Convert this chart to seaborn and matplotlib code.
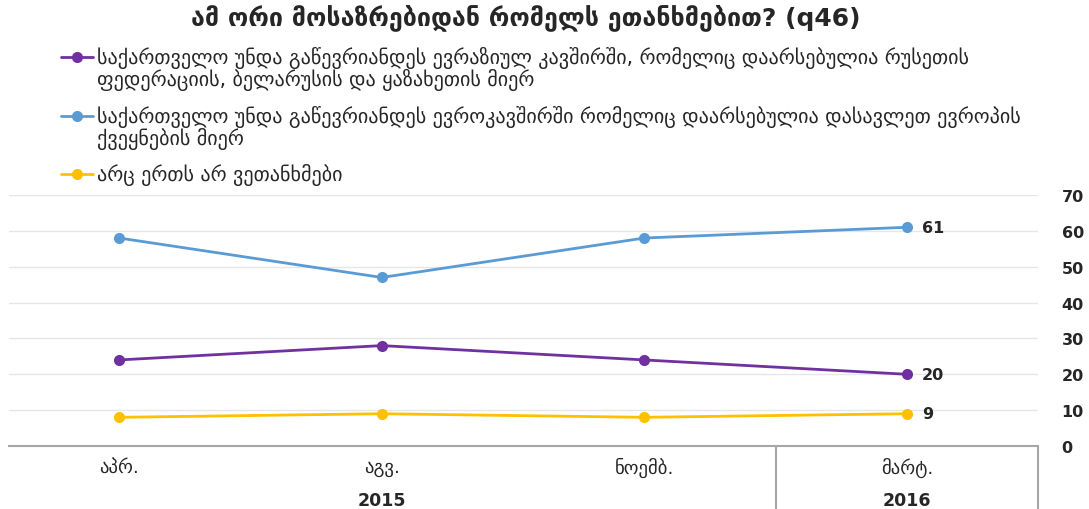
import pandas as pd
import matplotlib
matplotlib.use('Agg')
import matplotlib.pyplot as plt
from matplotlib.lines import Line2D
import seaborn as sns

# Data
months = ['აპრ.', 'აგვ.', 'ნოემბ.', 'მარტ.']
years = ['2015', '2016']
year_spans = [(0, 2), (3, 3)]
series = [
    'საქართველო უნდა გაწევრიანდეს ევრაზიულ კავშირში, რომელიც დაარსებულია რუსეთის ფედერაციის, ბელარუსის და ყაზახეთის მიერ',
    'საქართველო უნდა გაწევრიანდეს ევროკავშირში რომელიც დაარსებულია დასავლეთ ევროპის ქვეყნების მიერ',
    'არც ერთს არ ვეთანხმები',
]
# legend text as wrapped in the reference
legend_lines = [
    ['საქართველო უნდა გაწევრიანდეს ევრაზიულ კავშირში, რომელიც დაარსებულია რუსეთის',
     'ფედერაციის, ბელარუსის და ყაზახეთის მიერ'],
    ['საქართველო უნდა გაწევრიანდეს ევროკავშირში რომელიც დაარსებულია დასავლეთ ევროპის',
     'ქვეყნების მიერ'],
    ['არც ერთს არ ვეთანხმები'],
]
eaeu = [24, 28, 24, 20]
eu = [58, 47, 58, 61]
neither = [8, 9, 8, 9]
colors = ['#7030A0', '#5B9BD5', '#FFC000']

# Long table for seaborn
rows = []
for name, vals in zip(series, [eaeu, eu, neither]):
    for i, v in enumerate(vals):
        rows.append({'pos': i, 'value': v, 'series': name})
df = pd.DataFrame(rows)

sns.set_style('white')
plt.rcParams['font.family'] = ['DejaVu Sans']
W, H = 1089, 510

fig = plt.figure(figsize=(W / 100, H / 100), dpi=100)
ax = fig.add_axes([9 / W, 63 / H, (1038 - 9) / W, 251 / H])

sns.lineplot(data=df, x='pos', y='value', hue='series', hue_order=series,
             palette=colors, marker='o', markersize=8, markeredgewidth=0,
             linewidth=2, ax=ax, legend=False)

ax.set_xlim(-0.42, 3.5)
ax.set_ylim(0, 70)
ax.set_yticks(range(0, 71, 10))
ax.yaxis.tick_right()
ax.tick_params(axis='y', length=0, pad=17, labelsize=11.5, labelcolor='#262626')
for lab in ax.get_yticklabels():
    lab.set_fontweight('bold')
ax.grid(axis='y', color='#E6E6E6', linewidth=1)
ax.set_xticks(range(len(months)))
ax.set_xticklabels(months, fontsize=13.5, color='#262626')
ax.tick_params(axis='x', length=0, pad=8)
ax.set_xlabel('')
ax.set_ylabel('')
for s in ['top', 'left', 'right']:
    ax.spines[s].set_visible(False)
ax.spines['bottom'].set_color('#A6A6A6')
ax.spines['bottom'].set_linewidth(1.5)

# year row and category separators
trans = ax.get_xaxis_transform()
for yr, (a, b) in zip(years, year_spans):
    ax.text((a + b) / 2, -0.215, yr, transform=trans, ha='center', va='center',
            fontsize=12.5, fontweight='bold', color='#262626')
for xs in [2.5, 3.5]:
    ax.plot([xs, xs], [0, -0.3], transform=trans, color='#A6A6A6',
            linewidth=1.5, clip_on=False)

# end labels
for vals in [eaeu, eu, neither]:
    ax.annotate(str(vals[-1]), (3, vals[-1]), xytext=(11, 0),
                textcoords='offset points', va='center', ha='left',
                fontsize=11.5, fontweight='bold', color='#262626')

# legend, marker aligned with the first line of each entry
entry_y = [58, 117, 175]
for col, lines, y0 in zip(colors, legend_lines, entry_y):
    fig.add_artist(Line2D([61 / W, 93 / W], [1 - y0 / H, 1 - y0 / H], color=col,
                          linewidth=2, transform=fig.transFigure))
    fig.add_artist(Line2D([77 / W], [1 - y0 / H], color=col, marker='o',
                          markersize=8, markeredgewidth=0, transform=fig.transFigure))
    for k, line in enumerate(lines):
        fig.text(97 / W, 1 - (y0 + 22 * k) / H, line, ha='left', va='center',
                 fontsize=14.5, color='#262626')

fig.text(526 / W, 1 - 18 / H, 'ამ ორი მოსაზრებიდან რომელს ეთანხმებით? (q46)',
         ha='center', va='center', fontsize=18, fontweight='bold', color='#262626')

fig.savefig('out.png', dpi=100)
